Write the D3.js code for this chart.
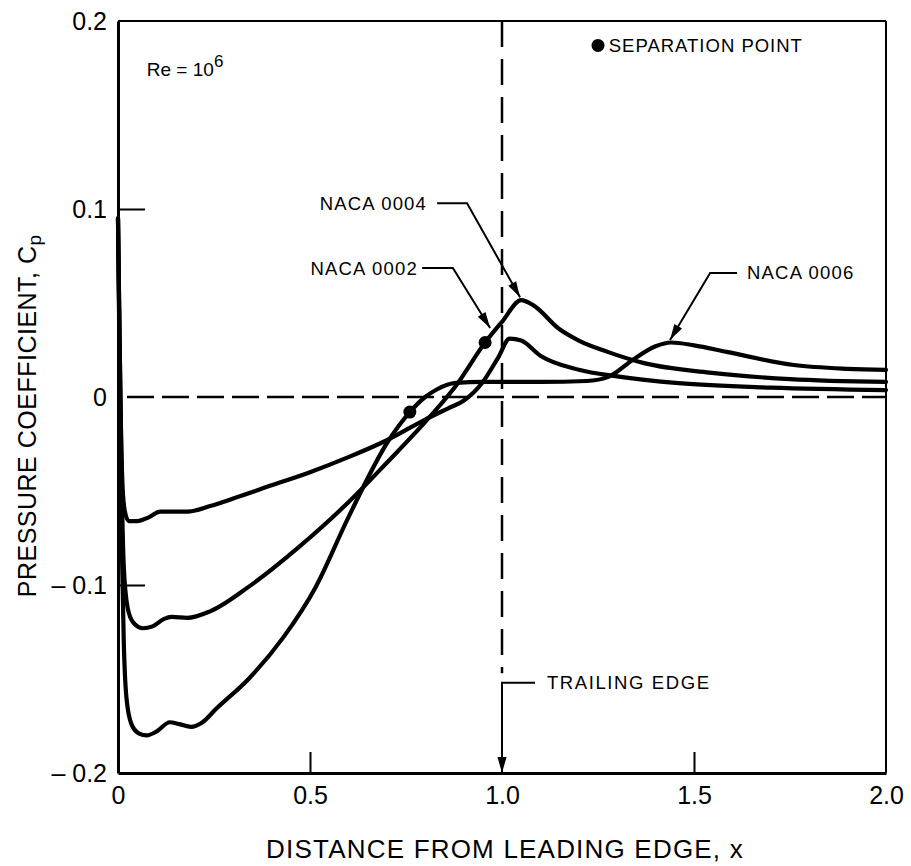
<!DOCTYPE html>
<html>
<head>
<meta charset="utf-8">
<script src="https://cdn.jsdelivr.net/npm/d3@7"></script>
<style>
  html, body { margin: 0; padding: 0; background: #fff; }
  svg text { font-family: "Liberation Sans", Arial, Helvetica, sans-serif; fill: #000; }
</style>
</head>
<body>
<svg id="chart" width="911" height="866"></svg>
<script>
// Axis ticks
const xTickValues = [0, 0.5, 1.0, 1.5, 2.0];
const xTickLabels = ["0", "0.5", "1.0", "1.5", "2.0"];
const yTickValues = [0.2, 0.1, 0, -0.1, -0.2];
const yTickLabels = ["0.2", "0.1", "0", "\u2013 0.1", "\u2013 0.2"];

// Pressure coefficient along the surface and wake, [x, Cp]
const naca0002 = [
  [0.000, 0.095], [0.004, 0.030], [0.008, -0.020], [0.012, -0.048], [0.018, -0.061],
  [0.028, -0.066], [0.050, -0.066], [0.080, -0.064], [0.110, -0.061], [0.140, -0.061],
  [0.180, -0.061], [0.240, -0.058], [0.300, -0.054], [0.400, -0.047], [0.500, -0.040],
  [0.600, -0.032], [0.700, -0.023], [0.800, -0.012], [0.860, -0.006], [0.900, -0.002],
  [0.950, 0.008], [0.990, 0.021], [1.020, 0.031], [1.050, 0.030], [1.100, 0.022],
  [1.200, 0.0145], [1.300, 0.011], [1.460, 0.0074], [1.700, 0.005], [2.000, 0.0037]
];
const naca0004 = [
  [0.000, 0.095], [0.005, 0.020], [0.010, -0.050], [0.015, -0.090], [0.025, -0.112],
  [0.040, -0.120], [0.065, -0.123], [0.090, -0.122], [0.120, -0.118], [0.140, -0.117],
  [0.180, -0.1175], [0.240, -0.114], [0.340, -0.101], [0.470, -0.080], [0.600, -0.056],
  [0.700, -0.035], [0.810, -0.011], [0.880, 0.006], [0.956, 0.029], [1.000, 0.040],
  [1.050, 0.0515], [1.080, 0.049], [1.150, 0.036], [1.200, 0.030], [1.275, 0.024],
  [1.370, 0.018], [1.540, 0.013], [1.750, 0.0095], [2.000, 0.008]
];
const naca0006 = [
  [0.000, 0.095], [0.005, 0.000], [0.010, -0.080], [0.015, -0.130], [0.022, -0.160],
  [0.035, -0.174], [0.055, -0.179], [0.075, -0.180], [0.100, -0.178], [0.135, -0.173],
  [0.160, -0.174], [0.190, -0.1755], [0.220, -0.173], [0.255, -0.166], [0.340, -0.150],
  [0.430, -0.128], [0.515, -0.101], [0.600, -0.064], [0.705, -0.023], [0.760, -0.008],
  [0.800, 0.000], [0.830, 0.004], [0.880, 0.0075], [0.950, 0.008], [1.100, 0.008],
  [1.220, 0.0085], [1.280, 0.011], [1.340, 0.0197], [1.400, 0.027], [1.440, 0.029],
  [1.500, 0.0275], [1.585, 0.024], [1.760, 0.017], [1.900, 0.015], [2.000, 0.0144]
];

// Separation points [x, Cp]
const separationPoints = [[0.760, -0.008], [0.956, 0.029]];

const svg = d3.select("#chart");
const x = d3.scaleLinear().domain([0, 2]).range([118, 886]);
const y = d3.scaleLinear().domain([-0.2, 0.2]).range([773, 21]);

const font = '"Liberation Sans", Arial, Helvetica, sans-serif';

// Reference lines: Cp = 0 and the trailing edge
svg.append("line")
  .attr("x1", x(0)).attr("x2", x(2)).attr("y1", y(0)).attr("y2", y(0))
  .attr("stroke", "#000").attr("stroke-width", 2.5).attr("stroke-dasharray", "27,8")
  .attr("stroke-dashoffset", -9);
svg.append("line")
  .attr("x1", x(1)).attr("x2", x(1)).attr("y1", y(0.2)).attr("y2", y(-0.147))
  .attr("stroke", "#000").attr("stroke-width", 2.5).attr("stroke-dasharray", "26,12");

// Frame
svg.append("line").attr("x1", x(0)).attr("x2", x(2)).attr("y1", y(0.2)).attr("y2", y(0.2))
  .attr("stroke", "#000").attr("stroke-width", 2);
svg.append("line").attr("x1", x(2)).attr("x2", x(2)).attr("y1", y(0.2)).attr("y2", y(-0.2))
  .attr("stroke", "#000").attr("stroke-width", 2);

// Axes with inward ticks
const yAxis = d3.axisLeft(y)
  .tickValues(yTickValues)
  .tickFormat((d, i) => yTickLabels[i])
  .tickSizeInner(-27).tickSizeOuter(0).tickPadding(11);
const gy = svg.append("g").attr("transform", `translate(${x(0)},0)`).call(yAxis);
gy.select(".domain").attr("stroke-width", 3);
gy.selectAll(".tick line").attr("stroke-width", 2)
  .attr("display", d => (d === 0.1 || d === -0.1) ? null : "none");
gy.selectAll(".tick text").attr("font-size", 25).attr("font-family", font);

const xAxis = d3.axisBottom(x)
  .tickValues(xTickValues)
  .tickFormat((d, i) => xTickLabels[i])
  .tickSizeInner(-21).tickSizeOuter(0).tickPadding(13);
const gx = svg.append("g").attr("transform", `translate(0,${y(-0.2)})`).call(xAxis);
gx.select(".domain").attr("stroke-width", 3);
gx.selectAll(".tick line").attr("stroke-width", 2)
  .attr("display", d => (d === 0.5 || d === 1.5) ? null : "none");
gx.selectAll(".tick text").attr("font-size", 25).attr("font-family", font);

// Curves
const line = d3.line().x(d => x(d[0])).y(d => y(d[1])).curve(d3.curveMonotoneX);
[naca0002, naca0004, naca0006].forEach(series => {
  svg.append("path").datum(series)
    .attr("d", line)
    .attr("fill", "none").attr("stroke", "#000")
    .attr("stroke-width", 4.2).attr("stroke-linejoin", "round").attr("stroke-linecap", "round");
});

// Separation markers
svg.selectAll("circle.sep").data(separationPoints).enter().append("circle")
  .attr("class", "sep")
  .attr("cx", d => x(d[0])).attr("cy", d => y(d[1])).attr("r", 6.5).attr("fill", "#000");

// Leader lines with arrowheads
function leader(points) {
  const pts = points.map(p => [x(p[0]), y(p[1])]);
  svg.append("path").attr("d", d3.line()(pts))
    .attr("fill", "none").attr("stroke", "#000").attr("stroke-width", 2);
  const [a, b] = pts.slice(-2);
  const ang = Math.atan2(b[1] - a[1], b[0] - a[0]);
  const len = 16, half = 4.5;
  const bx = b[0] - len * Math.cos(ang), by = b[1] - len * Math.sin(ang);
  const px = -Math.sin(ang) * half, py = Math.cos(ang) * half;
  svg.append("path")
    .attr("d", `M${b[0]},${b[1]}L${bx + px},${by + py}L${bx - px},${by - py}Z`)
    .attr("fill", "#000");
}

function label(text, xv, yv, anchor, spacing) {
  svg.append("text")
    .attr("x", x(xv)).attr("y", y(yv))
    .attr("text-anchor", anchor).attr("dominant-baseline", "central")
    .attr("font-size", 18.5).attr("letter-spacing", spacing)
    .text(text);
}

label("NACA 0004", 0.805, 0.103, "end", 1.2);
leader([[0.831, 0.103], [0.909, 0.103], [1.047, 0.053]]);

label("NACA 0002", 0.781, 0.0686, "end", 1.2);
leader([[0.792, 0.0686], [0.872, 0.0686], [0.969, 0.0367]]);

label("NACA 0006", 1.638, 0.066, "start", 1.2);
leader([[1.612, 0.066], [1.542, 0.066], [1.4375, 0.0303]]);

label("TRAILING EDGE", 1.117, -0.152, "start", 1.6);
leader([[1.086, -0.152], [1.0, -0.152], [1.0, -0.2]]);

// Legend
svg.append("circle").attr("cx", x(1.25)).attr("cy", y(0.187)).attr("r", 6.5).attr("fill", "#000");
label("SEPARATION POINT", 1.278, 0.187, "start", 1.0);

// Reynolds number
const re = svg.append("text").attr("x", x(0.075)).attr("y", y(0.171))
  .attr("font-size", 19);
re.append("tspan").text("Re = 10");
re.append("tspan").attr("font-size", 17).attr("dy", -9).text("6");

// Axis titles
svg.append("text")
  .attr("x", 505).attr("y", 849)
  .attr("text-anchor", "middle").attr("dominant-baseline", "central")
  .attr("font-size", 26).attr("letter-spacing", 1.2)
  .text("DISTANCE FROM LEADING EDGE, x");

const yt = svg.append("text")
  .attr("transform", `translate(27,${y(-0.01)}) rotate(-90)`)
  .attr("text-anchor", "middle").attr("dominant-baseline", "central")
  .attr("font-size", 25).attr("letter-spacing", 0.5);
yt.append("tspan").text("PRESSURE COEFFICIENT, C");
yt.append("tspan").attr("font-size", 19).attr("dy", 7).text("p");
</script>
</body>
</html>
